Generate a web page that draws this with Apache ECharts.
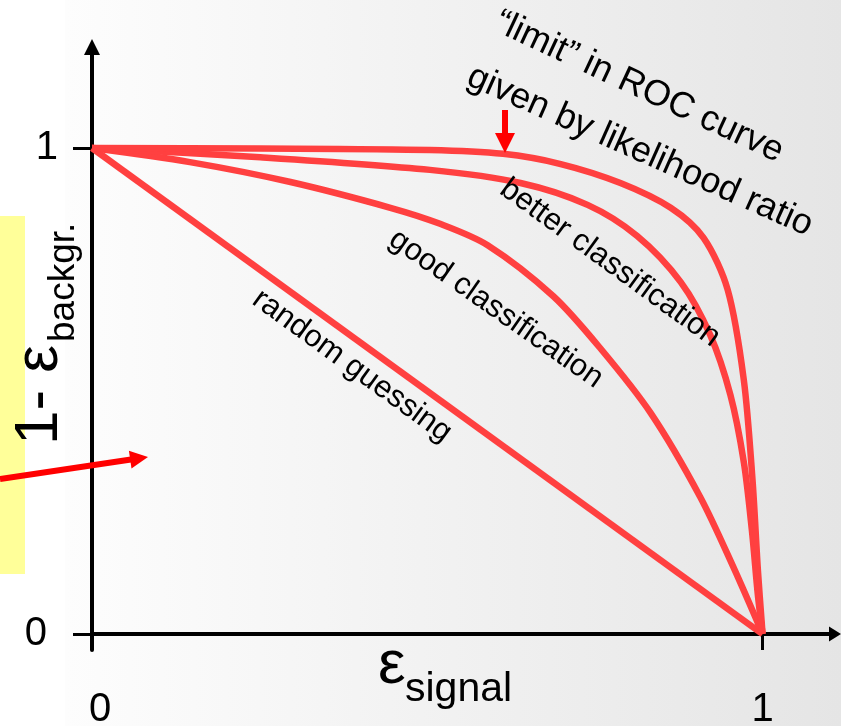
<!DOCTYPE html>
<html>
<head>
<meta charset="utf-8">
<script src="https://cdn.jsdelivr.net/npm/echarts@6/dist/echarts.min.js"></script>
<style>
html, body { margin: 0; padding: 0; background: #fff; }
#roc { width: 841px; height: 726px; }
</style>
</head>
<body>
<div id="roc"></div>
<script>
// x = signal efficiency, y = 1 - background efficiency
const axisTicks = [0, 1];

const randomX = [0, 1];
const randomY = [1, 0];

const goodX = [0, 0.146, 0.296, 0.445, 0.519, 0.590, 0.688, 0.758, 0.833, 0.907, 0.957, 1];
const goodY = [1, 0.971, 0.930, 0.877, 0.844, 0.800, 0.695, 0.588, 0.455, 0.282, 0.136, 0];

const betterX = [0, 0.251, 0.504, 0.639, 0.739, 0.813, 0.878, 0.922, 0.952, 0.972, 0.984, 0.993, 1];
const betterY = [1, 0.981, 0.955, 0.928, 0.883, 0.819, 0.724, 0.615, 0.492, 0.354, 0.214, 0.080, 0];

const limitX = [0, 0.251, 0.504, 0.613, 0.699, 0.788, 0.863, 0.912, 0.948, 0.972, 0.985, 0.993, 1];
const limitY = [1, 0.999, 0.996, 0.988, 0.967, 0.928, 0.877, 0.815, 0.708, 0.523, 0.317, 0.132, 0];

const FONT = "'Liberation Sans', Arial, sans-serif";
const RED = '#ff4040';

function pairs(xs, ys) {
  return xs.map((x, i) => [x, ys[i]]);
}

function curve(name, xs, ys, smooth) {
  return {
    name: name,
    type: 'line',
    data: pairs(xs, ys),
    showSymbol: false,
    smooth: smooth,
    silent: true,
    lineStyle: { color: RED, width: 6.5 }
  };
}

function label(text, x, y, rot, size, align) {
  align = align || 'center';
  return {
    type: 'text',
    x: x,
    y: y,
    rotation: rot * Math.PI / 180,
    z: 10,
    style: {
      text: text,
      fill: '#000',
      fontSize: size,
      fontFamily: FONT,
      align: align,
      textAlign: align,
      verticalAlign: 'middle',
      textVerticalAlign: 'middle'
    }
  };
}

const chart = echarts.init(document.getElementById('roc'));
chart.setOption({
  animation: false,
  backgroundColor: '#fff',
  grid: { left: 92, right: 6, top: 47, bottom: 76, containLabel: false, outerBoundsMode: 'none' },
  xAxis: {
    type: 'value',
    min: 0,
    max: 1.108,
    splitLine: { show: false },
    axisLine: {
      onZero: true,
      symbol: ['none', 'triangle'],
      symbolSize: [15, 12],
      lineStyle: { color: '#000', width: 4 }
    },
    axisTick: { customValues: axisTicks, length: 16, lineStyle: { color: '#000', width: 3 } },
    axisLabel: {
      customValues: axisTicks,
      margin: 40,
      color: '#000',
      fontSize: 40,
      fontFamily: FONT,
      formatter: v => (v === 0 ? '{z|0}' : '{o|1}'),
      rich: {
        z: { fontSize: 40, fontFamily: FONT, color: '#000', padding: [0, 0, 0, 16] },
        o: { fontSize: 40, fontFamily: FONT, color: '#000' }
      }
    }
  },
  yAxis: {
    type: 'value',
    min: -0.0329,
    max: 1.2078,
    splitLine: { show: false },
    axisLine: {
      onZero: true,
      symbol: ['none', 'triangle'],
      symbolSize: [16, 16],
      lineStyle: { color: '#000', width: 4 }
    },
    axisTick: { customValues: axisTicks, length: 19, lineStyle: { color: '#000', width: 3 } },
    axisLabel: {
      customValues: axisTicks,
      margin: 34,
      color: '#000',
      fontSize: 40,
      fontFamily: FONT,
      formatter: v => (v === 0 ? '{z|0}' : '{o|1}'),
      rich: {
        z: { fontSize: 40, fontFamily: FONT, color: '#000', padding: [0, 11, 0, 0] },
        o: { fontSize: 40, fontFamily: FONT, color: '#000' }
      }
    }
  },
  series: [
    curve('random guessing', randomX, randomY, false),
    curve('good classification', goodX, goodY, 0.3),
    curve('better classification', betterX, betterY, 0.3),
    curve('limit', limitX, limitY, 0.3)
  ],
  graphic: [
    {
      type: 'rect', z: -10, silent: true,
      shape: { x: 65, y: 0, width: 776, height: 726 },
      style: {
        fill: new echarts.graphic.LinearGradient(0, 0, 1, 0, [
          { offset: 0, color: '#fdfdfd' },
          { offset: 1, color: '#e5e5e5' }
        ])
      }
    },
    { type: 'rect', z: -9, silent: true, shape: { x: 0, y: 216, width: 25, height: 358 }, style: { fill: '#ffff99' } },

    // axis titles
    label('1- \u03b5', 39.5, 445, 90, 62, 'left'),
    label('backgr.', 64, 342, 90, 37, 'left'),
    label('\u03b5', 378, 665.5, 0, 62, 'left'),
    label('signal', 405, 690, 0, 41, 'left'),

    // curve annotations
    label('random guessing', 352, 366, -36, 31),
    label('good classification', 496, 309, -35, 31),
    label('better classification', 610, 263, -36, 31),
    label('\u201climit\u201d in ROC curve', 639, 87, -25, 36),
    label('given by likelihood ratio', 640, 151, -24, 36),

    // small arrow pointing at the limit curve
    { type: 'line', z: 10, shape: { x1: 505, y1: 110, x2: 505, y2: 136 }, style: { stroke: '#ff0000', lineWidth: 6 } },
    { type: 'polygon', z: 10, shape: { points: [[495, 133], [515, 133], [505, 153]] }, style: { fill: '#ff0000' } },

    // arrow coming in from the left
    { type: 'line', z: 10, shape: { x1: 0, y1: 479, x2: 131, y2: 459.5 }, style: { stroke: '#ff0000', lineWidth: 6 } },
    { type: 'polygon', z: 10, shape: { points: [[148, 457], [131.5, 468.5], [128.9, 450.7]] }, style: { fill: '#ff0000' } }
  ]
});
</script>
</body>
</html>
